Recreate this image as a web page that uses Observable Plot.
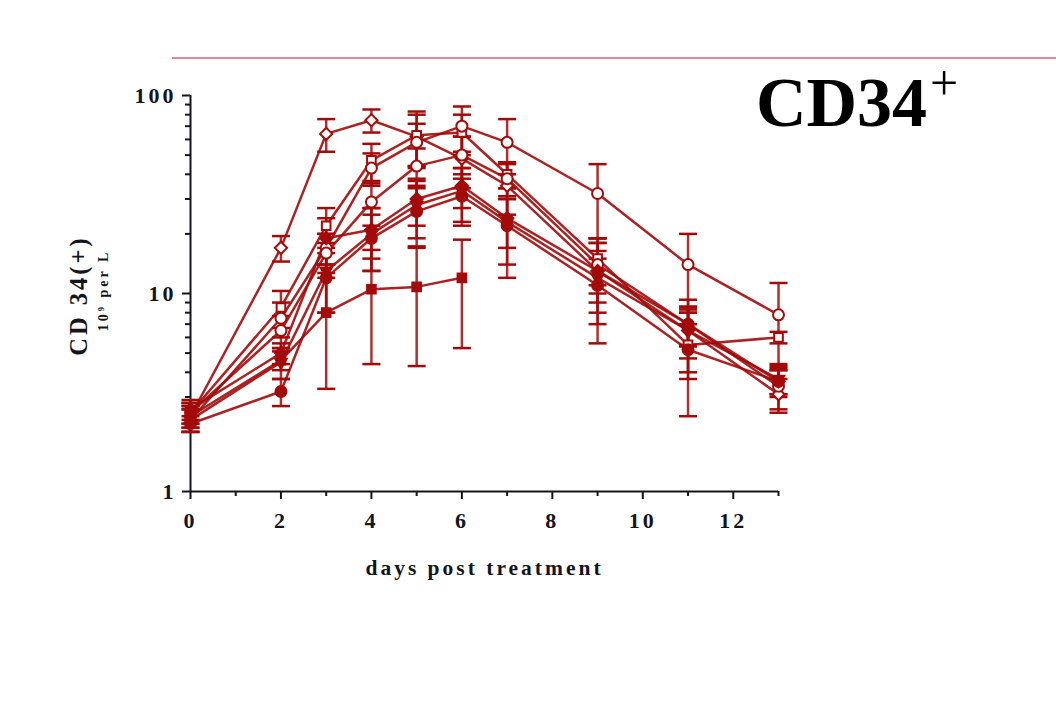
<!DOCTYPE html>
<html>
<head>
<meta charset="utf-8">
<script src="https://cdn.jsdelivr.net/npm/d3@7"></script>
<script src="https://cdn.jsdelivr.net/npm/@observablehq/plot@0.6"></script>
<style>
  html, body { margin: 0; padding: 0; background: #fff; }
  #wrap { position: relative; width: 1056px; height: 719px; }
  #topRule { position: absolute; left: 172px; top: 57px; width: 884px; height: 0; border-top: 2px solid #d98a96; }
  #title { position: absolute; left: 756px; top: 60px; font-family: "Liberation Serif", serif; font-weight: bold; font-size: 70px; color: #000; line-height: 1; white-space: nowrap; }
  #title sup { font-size: 50px; font-weight: normal; position: relative; top: -2px; left: 3px; }
</style>
</head>
<body>
<div id="wrap">
  <div id="chart"></div>
  <div id="topRule"></div>
  <div id="title">CD34<sup>+</sup></div>
</div>
<script>
// ---- data ----
const days = [0, 2, 3, 4, 5, 6, 7, 9, 11, 13];
const daysShort = [0, 2, 3, 4, 5, 6];

const openDiamond   = [2.4, 17, 64, 75, 62, 48, 35, 13, 6.5, 3.1];
const openDiamondSd = [0.3, 2.5, 12, 10, 18, 14, 10, 5, 2.8, 0.6];

const openSquare    = [2.5, 8.5, 22, 47, 63, 65, 40, 15, 5.5, 6.0];
const openSquareSd  = [0.3, 1.8, 5, 10, 20, 15, 6, 4, 1.5, 0.4];

const openCircle    = [2.3, 7.5, 17, 43, 58, 70, 58, 32, 14, 7.8];
const openCircleSd  = [0.3, 1.5, 3, 8, 14, 18, 18, 13, 6, 3.5];

const openHex       = [2.5, 6.5, 16, 29, 44, 50, 38, 14, 7, 3.4];
const openHexSd     = [0.3, 1.2, 4, 7, 10, 12, 8, 4, 1.6, 0.8];

const filledSquare   = [2.4, 4.6, 8, 10.5, 10.8, 12];
const filledSquareSd = [0.3, 0.5, 4.7, 6.1, 6.5, 6.7];

const filledTriDown   = [2.3, 4.5, 13, 20, 28, 33, 23, 12, 6.5, 3.7];
const filledTriDownSd = [0.3, 0.8, 5, 7, 9, 10, 11, 3, 1.8, 0.7];

const filledCircle   = [2.2, 3.2, 12, 19, 26, 31, 22, 11, 5.2, 3.6];
const filledCircleSd = [0.2, 0.5, 4, 6, 9, 9, 8, 5.4, 2.8, 0.5];

const filledDiamond   = [2.6, 5, 19, 21, 30, 35, 24, 13, 7, 3.6];
const filledDiamondSd = [0.3, 0.6, 5, 6, 8, 8, 7, 6, 1.5, 0.5];

const xMajorTicks = [0, 2, 4, 6, 8, 10, 12];
const xMinorTicks = [1, 3, 5, 7, 9, 11, 13];
const yMajorTicks = [1, 10, 100];
const yMinorTicks = [2,3,4,5,6,7,8,9,20,30,40,50,60,70,80,90];

// ---- build table ----
const seriesDefs = [
  {name: "openDiamond",   x: days,      y: openDiamond,   sd: openDiamondSd,   symbol: "diamond2", open: true,  rot: 0},
  {name: "openSquare",    x: days,      y: openSquare,    sd: openSquareSd,    symbol: "square2",  open: true,  rot: 0},
  {name: "openCircle",    x: days,      y: openCircle,    sd: openCircleSd,    symbol: "circle",   open: true,  rot: 0},
  {name: "openHex",       x: days,      y: openHex,       sd: openHexSd,       symbol: "circle",   open: true,  rot: 0},
  {name: "filledSquare",  x: daysShort, y: filledSquare,  sd: filledSquareSd,  symbol: "square2",  open: false, rot: 0},
  {name: "filledTriDown", x: days,      y: filledTriDown, sd: filledTriDownSd, symbol: "triangle2",open: false, rot: 180},
  {name: "filledCircle",  x: days,      y: filledCircle,  sd: filledCircleSd,  symbol: "circle",   open: false, rot: 0},
  {name: "filledDiamond", x: days,      y: filledDiamond, sd: filledDiamondSd, symbol: "diamond2", open: false, rot: 0}
];
const rows = [];
for (const s of seriesDefs) {
  s.x.forEach((d, i) => rows.push({
    series: s.name, day: d, value: s.y[i],
    lo: Math.max(s.y[i] - s.sd[i], 1.05), hi: s.y[i] + s.sd[i],
    symbol: s.symbol, open: s.open, rot: s.rot
  }));
}

const RED = "#a30a0a";
const INK = "#14141c";
const capSymbol = { draw(ctx) { ctx.moveTo(-9, 0); ctx.lineTo(9, 0); } };

const plot = Plot.plot({
  width: 1056,
  height: 719,
  marginLeft: 190,
  marginRight: 278,
  marginTop: 95,
  marginBottom: 228,
  style: { fontFamily: "Liberation Serif, serif", fontWeight: "bold", fontSize: "22px", letterSpacing: "3px", color: INK, background: "#fff" },
  x: { domain: [0, 13] },
  y: { type: "log", domain: [1, 100] },
  symbol: { type: "identity" },
  marks: [
    // axes
    Plot.axisX({ ticks: xMajorTicks, tickSize: 8, tickPadding: 13, tickFormat: d => String(d), label: null, stroke: INK, strokeWidth: 2, fill: INK, fontSize: 22 }),
    Plot.axisX({ ticks: xMinorTicks, tickSize: 5, tickFormat: () => "", label: null, stroke: INK, strokeWidth: 2 }),
    Plot.axisY({ ticks: yMajorTicks, tickSize: 8, tickPadding: 6, tickFormat: d => String(d), label: null, stroke: INK, strokeWidth: 2, fill: INK, fontSize: 22 }),
    Plot.axisY({ ticks: yMinorTicks, tickSize: 5, tickFormat: () => "", label: null, stroke: INK, strokeWidth: 2 }),
    Plot.ruleY([1], { stroke: INK, strokeWidth: 2 }),
    Plot.ruleX([0], { stroke: INK, strokeWidth: 2 }),
    // axis titles
    Plot.text(["days post treatment"], { frameAnchor: "bottom", dy: 83, fontSize: 21.5, fill: INK, fontWeight: "bold" }),
    Plot.text(["CD 34(+)"], { frameAnchor: "left", textAnchor: "middle", dx: -111, dy: 2, rotate: -90, fontSize: 24.5, fill: INK, fontWeight: "bold" }),
    Plot.text(["10⁹ per L"], { frameAnchor: "left", textAnchor: "middle", dx: -87, dy: -3, rotate: -90, fontSize: 14, fill: INK, fontWeight: "bold" }),
    // series lines
    Plot.line(rows, { x: "day", y: "value", z: "series", stroke: RED, strokeWidth: 2.5, strokeOpacity: 0.9 }),
    // error bars
    Plot.ruleX(rows, { x: "day", y1: "lo", y2: "hi", stroke: RED, strokeWidth: 2.5, strokeOpacity: 0.85 }),
    Plot.dot(rows, { x: "day", y: "hi", symbol: capSymbol, fill: "none", stroke: RED, strokeWidth: 2.5 }),
    Plot.dot(rows, { x: "day", y: "lo", symbol: capSymbol, fill: "none", stroke: RED, strokeWidth: 2.5 }),
    // markers
    Plot.dot(rows, { x: "day", y: "value", symbol: "symbol", rotate: "rot", r: 5.5,
      fill: d => d.open ? "#fff" : RED, stroke: RED, strokeWidth: 2 })
  ]
});
document.getElementById("chart").appendChild(plot);
</script>
</body>
</html>
